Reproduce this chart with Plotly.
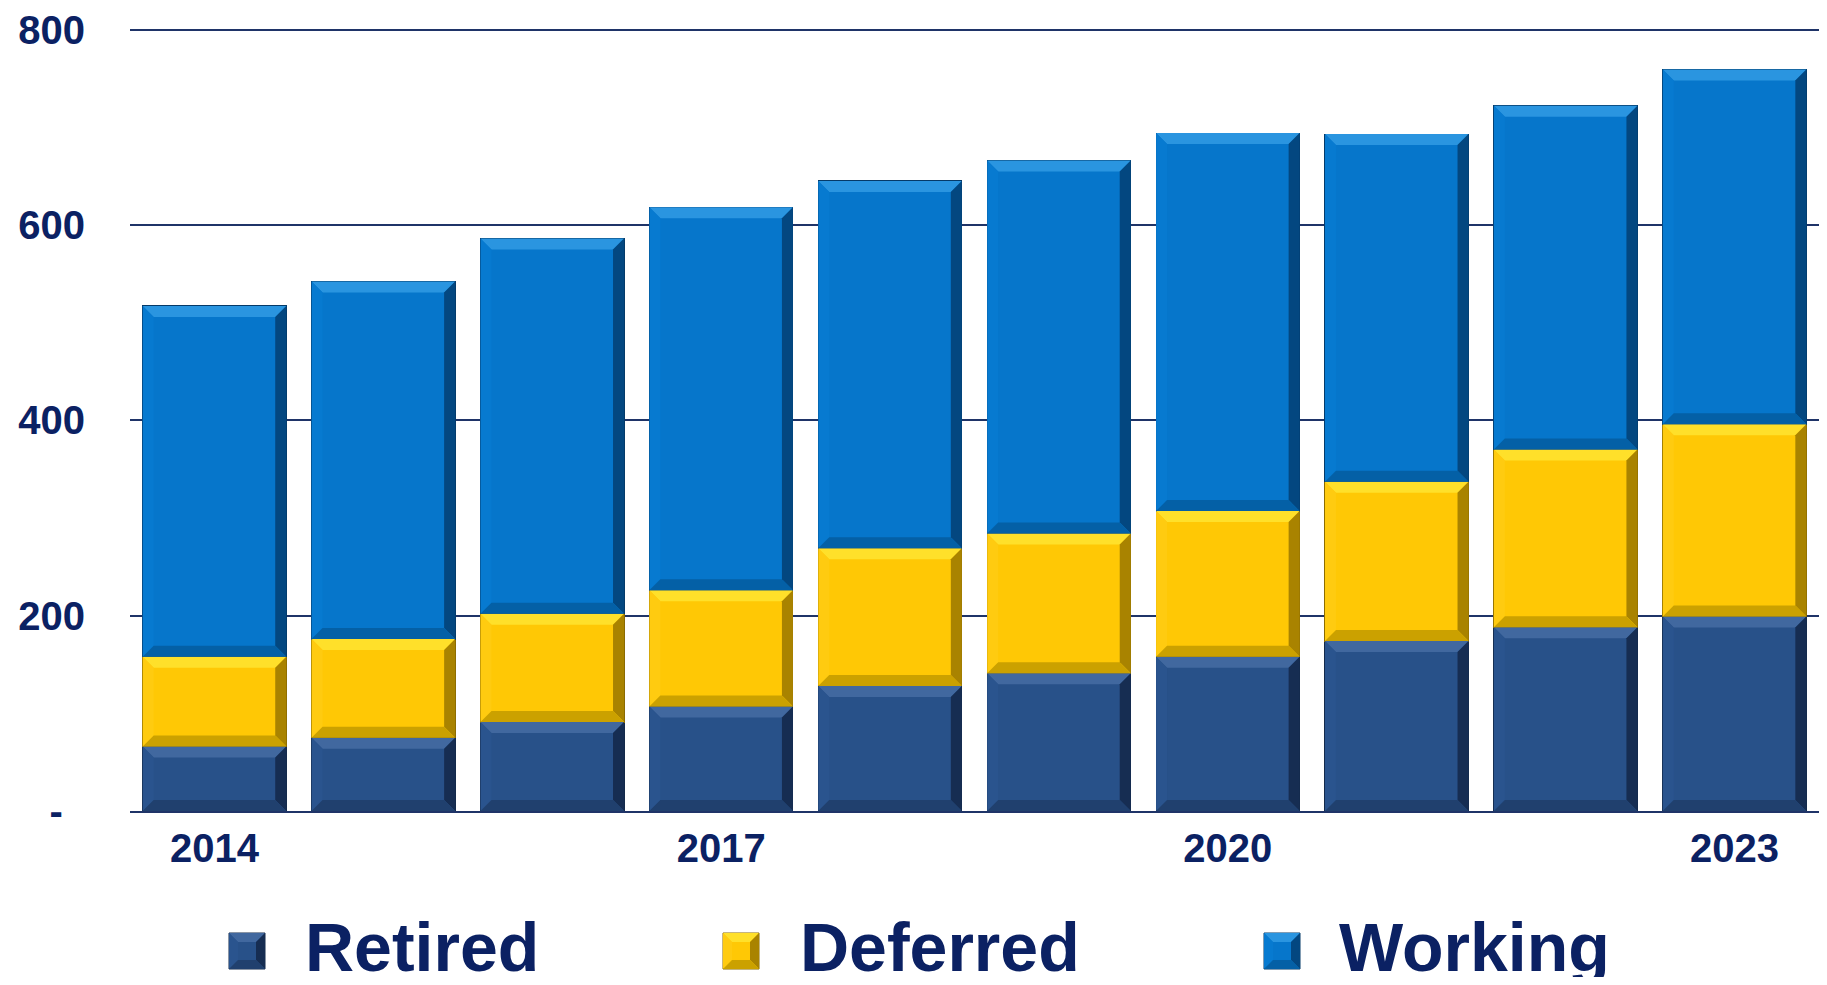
import plotly.graph_objects as go

# ---- data ----
years = ["2014", "2015", "2016", "2017", "2018", "2019", "2020", "2021", "2022", "2023"]
retired = [66, 75, 91, 107, 128, 141, 158, 174, 188, 199]
deferred = [92, 101, 111, 119, 141, 143, 149, 163, 182, 197]
working = [359, 366, 384, 392, 376, 382, 387, 356, 352, 363]

shown_years = ["2014", "2017", "2020", "2023"]
y_ticks = [0, 200, 400, 600, 800]
y_tick_labels = ["-\u00a0\u00a0", "200", "400", "600", "800"]

series_names = ["Retired", "Deferred", "Working"]
colors = {"Retired": "#285189", "Deferred": "#FFC805", "Working": "#0676CB"}
edge = {"Retired": "#142a4a", "Deferred": "#8a6a00", "Working": "#053a68"}
# bevel shades: top, left, right, bottom
bevel = {
    "Retired": ("#41689F", "#2A548E", "#162D52", "#20406E"),
    "Deferred": ("#FFE02A", "#FFCB10", "#A98300", "#CBA100"),
    "Working": ("#2A95E0", "#077AD0", "#034780", "#0460A6"),
}

NAVY = "#0B2163"
FONT = "Liberation Sans, Arial, sans-serif"

# ---- page geometry (px); the page body has an 8px margin ----
OFF = 8
W, H = 1827 - 2 * OFF, 985 - 2 * OFF
ML, MR, MT, MB = 122, 0, 20, 166
PW = W - ML - MR
PH = H - MT - MB
Y_TOP = 800 * PH / 781.5   # keeps the 800 gridline just inside the plot
BARGAP = 0.15
BEVEL = 11  # px


def px_x(x):
    # page x -> paper x
    return (x - OFF - ML) / PW


def px_y(y):
    # page y -> paper y
    return (H - MB - (y - OFF)) / PH


def bevel_paths(xl, xr, y0, y1, bx, by):
    """Four trapezoids (top, left, right, bottom) framing a rectangle."""
    P = lambda pts: "M " + " L ".join(f"{a},{b}" for a, b in pts) + " Z"
    return (
        P([(xl, y1), (xr, y1), (xr - bx, y1 - by), (xl + bx, y1 - by)]),
        P([(xl, y0), (xl, y1), (xl + bx, y1 - by), (xl + bx, y0 + by)]),
        P([(xr, y0), (xr, y1), (xr - bx, y1 - by), (xr - bx, y0 + by)]),
        P([(xl, y0), (xr, y0), (xr - bx, y0 + by), (xl + bx, y0 + by)]),
    )


fig = go.Figure()
series = dict(zip(series_names, [retired, deferred, working]))
for name in series_names:
    fig.add_trace(go.Bar(
        x=years,
        y=series[name],
        name=name,
        marker=dict(color=colors[name], line=dict(color=edge[name], width=1)),
        showlegend=False,
        hovertemplate=f"{name}<br>%{{x}}: %{{y}}<extra></extra>",
    ))

shapes = []
annotations = []

# bevel overlay on every bar segment, in data coordinates
hw = (1 - BARGAP) / 2
bx = BEVEL / (PW / len(years))
by = BEVEL * Y_TOP / PH
for i in range(len(years)):
    base = 0
    for name in series_names:
        top = base + series[name][i]
        for path, shade in zip(bevel_paths(i - hw, i + hw, base, top, bx, by), bevel[name]):
            shapes.append(dict(type="path", xref="x", yref="y", path=path,
                               fillcolor=shade, line=dict(width=0), layer="above"))
        base = top

# hand-made legend with large swatches
legend_pos = {"Retired": (229, 303), "Deferred": (723, 798), "Working": (1264, 1337)}
for name in series_names:
    mx, tx = legend_pos[name]
    x0, x1, y0, y1 = px_x(mx), px_x(mx + 36), px_y(969), px_y(933)
    shapes.append(dict(
        type="rect", xref="paper", yref="paper",
        x0=x0, x1=x1, y0=y0, y1=y1,
        fillcolor=colors[name], line=dict(color=edge[name], width=1),
    ))
    lbx, lby = 9 / PW, 9 / PH
    for path, shade in zip(bevel_paths(x0, x1, y0, y1, lbx, lby), bevel[name]):
        shapes.append(dict(type="path", xref="paper", yref="paper", path=path,
                           fillcolor=shade, line=dict(width=0)))
    annotations.append(dict(
        text=name, xref="paper", yref="paper",
        x=px_x(tx), y=px_y(947), xanchor="left", yanchor="middle",
        showarrow=False,
        font=dict(family=FONT, size=68, color=NAVY, weight="bold"),
    ))

fig.update_layout(
    barmode="stack",
    bargap=BARGAP,
    width=W, height=H,
    margin=dict(l=ML, r=MR, t=MT, b=MB, pad=0),
    plot_bgcolor="white",
    paper_bgcolor="white",
    font=dict(family=FONT, color=NAVY),
    shapes=shapes,
    annotations=annotations,
    xaxis=dict(
        tickmode="array",
        tickvals=shown_years,
        ticktext=shown_years,
        tickfont=dict(family=FONT, size=40, color=NAVY, weight="bold"),
        showgrid=False,
        showline=True, linecolor="#1F3468", linewidth=2,
        ticks="",
        ticklabelstandoff=1,
    ),
    yaxis=dict(
        range=[0, Y_TOP],
        tickmode="array",
        tickvals=y_ticks,
        ticktext=y_tick_labels,
        tickfont=dict(family=FONT, size=40, color=NAVY, weight="bold"),
        showgrid=True, gridcolor="#1F3468", gridwidth=2,
        zeroline=False,
        ticks="",
        ticklabelstandoff=44,
        ticklabeloverflow="allow",
    ),
)

fig.write_html("out.html")
